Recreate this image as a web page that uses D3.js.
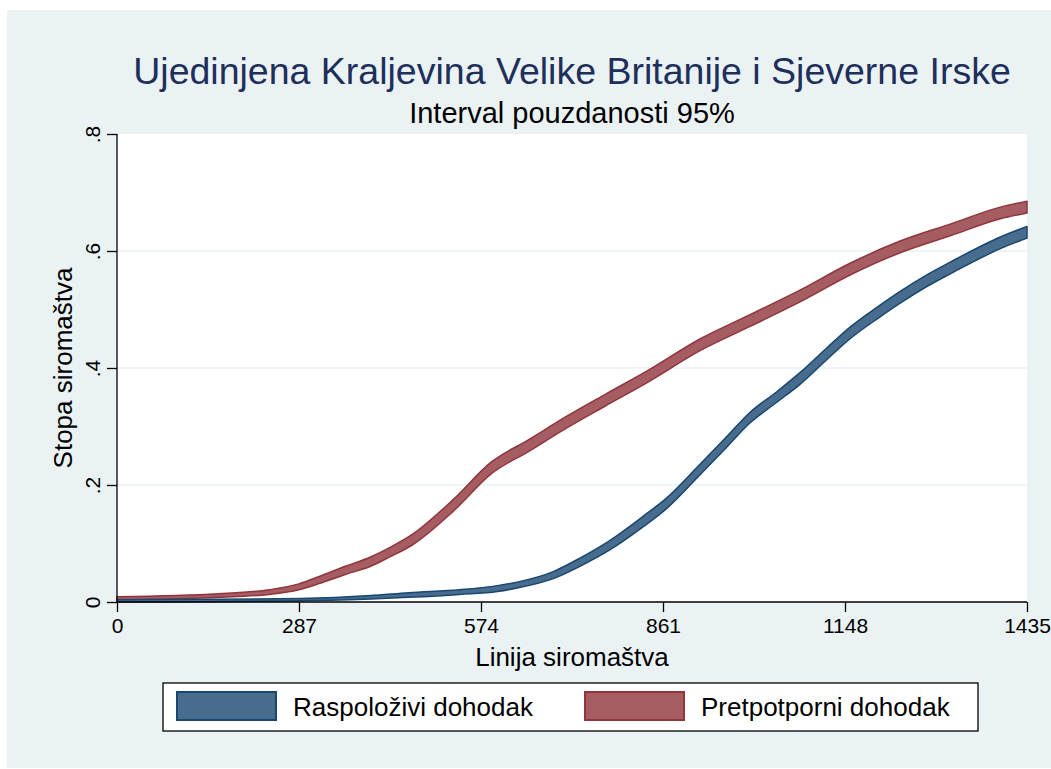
<html>
<head>
<style>
  body { margin: 0; background: #fff; }
  svg text { font-family: "Liberation Sans", Arial, sans-serif; }
</style>
</head>
<body>
<svg id="chart" width="1051" height="769"></svg>
<script src="https://d3js.org/d3.v7.min.js"></script>
<script>
// data
var xTicks = [0, 287, 574, 861, 1148, 1435];
var yTicks = [0, 0.2, 0.4, 0.6, 0.8];
var yTickLabels = ["0", ".2", ".4", ".6", ".8"];
var seriesNames = ["Raspoloživi dohodak", "Pretpotporni dohodak"];

// Raspoloživi dohodak (blue band)
var dispX  = [0, 130, 290, 400, 460, 540, 600, 631, 688, 730, 777, 829, 867, 919, 960, 998, 1040, 1077, 1120, 1156, 1200, 1235, 1275, 1314, 1393, 1435];
var dispLo = [.000, .0005, .002, .005, .008, .013, .018, .024, .040, .061, .089, .128, .160, .217, .263, .306, .341, .372, .415, .450, .485, .511, .538, .561, .604, .622];
var dispHi = [.004, .0045, .006, .011, .016, .021, .028, .034, .052, .075, .105, .146, .178, .235, .281, .324, .359, .392, .435, .470, .505, .531, .558, .581, .624, .642];

// Pretpotporni dohodak (red band)
var preX  = [0, 160, 240, 287, 320, 360, 400, 430, 465, 530, 590, 650, 710, 770, 836, 920, 1000, 1077, 1156, 1235, 1314, 1393, 1435];
var preLo = [.003, .008, .013, .021, .032, .047, .061, .077, .097, .155, .219, .258, .298, .335, .375, .430, .472, .513, .559, .597, .626, .655, .665];
var preHi = [.009, .014, .021, .031, .044, .061, .077, .093, .115, .175, .239, .278, .318, .355, .395, .450, .492, .533, .579, .617, .646, .675, .685];

var colors = {
  blueFill: "#476c8e", blueLine: "#1a476f",
  redFill: "#a55d63", redLine: "#90353b"
};

var svg = d3.select("#chart");

// outer graph region
svg.append("rect").attr("x", 7).attr("y", 10).attr("width", 1044).attr("height", 758)
  .attr("fill", "#eaf2f3");

var pLeft = 117, pRight = 1027, pTop = 134, pBottom = 602;
var x = d3.scaleLinear().domain([0, 1435]).range([pLeft, pRight]);
var y = d3.scaleLinear().domain([0, 0.8]).range([pBottom, pTop]);

// plot region
svg.append("rect").attr("x", pLeft).attr("y", pTop).attr("width", pRight - pLeft).attr("height", pBottom - pTop)
  .attr("fill", "#fff");

// gridlines
svg.append("g").selectAll("line").data([0.2, 0.4, 0.6]).enter().append("line")
  .attr("x1", pLeft).attr("x2", pRight)
  .attr("y1", function(d) { return y(d); }).attr("y2", function(d) { return y(d); })
  .attr("stroke", "#eaf2f3").attr("stroke-width", 1.6);

function band(xs, lo, hi) {
  var pts = xs.map(function(v, i) { return { x: v, lo: lo[i], hi: hi[i] }; });
  return d3.area()
    .curve(d3.curveMonotoneX)
    .x(function(d) { return x(d.x); })
    .y0(function(d) { return y(d.lo); })
    .y1(function(d) { return y(d.hi); })(pts);
}

svg.append("path").attr("d", band(preX, preLo, preHi))
  .attr("fill", colors.redFill).attr("stroke", colors.redLine).attr("stroke-width", 1.5)
  .attr("stroke-linejoin", "round");
svg.append("path").attr("d", band(dispX, dispLo, dispHi))
  .attr("fill", colors.blueFill).attr("stroke", colors.blueLine).attr("stroke-width", 1.5)
  .attr("stroke-linejoin", "round");

// x axis
var xAxis = svg.append("g").attr("transform", "translate(0," + pBottom + ")")
  .call(d3.axisBottom(x).tickValues(xTicks).tickSize(10).tickPadding(6).tickFormat(d3.format("d")));
xAxis.select(".domain").attr("stroke", "#000").attr("stroke-width", 1.3).attr("d", "M" + pLeft + ",0H" + pRight);
xAxis.selectAll(".tick line").attr("stroke", "#000").attr("stroke-width", 1.3);
xAxis.selectAll(".tick text").attr("font-size", 21).attr("fill", "#000")
  .attr("font-family", "Liberation Sans, Arial, sans-serif");

// y axis
var yAxis = svg.append("g").attr("transform", "translate(" + pLeft + ",0)")
  .call(d3.axisLeft(y).tickValues(yTicks).tickSize(10).tickFormat(function(d, i) { return yTickLabels[i]; }));
yAxis.select(".domain").attr("stroke", "#000").attr("stroke-width", 1.3).attr("d", "M0," + pBottom + "V" + pTop);
yAxis.selectAll(".tick line").attr("stroke", "#000").attr("stroke-width", 1.3);
yAxis.selectAll(".tick text").attr("font-size", 21).attr("fill", "#000")
  .attr("font-family", "Liberation Sans, Arial, sans-serif")
  .attr("x", null).attr("dy", null)
  .attr("text-anchor", "middle")
  .attr("transform", "translate(-17,0) rotate(-90)")
  .attr("y", 0);

// titles
svg.append("text").attr("x", 572).attr("y", 84).attr("text-anchor", "middle")
  .attr("font-size", 37.5).attr("fill", "#1e2f5c")
  .text("Ujedinjena Kraljevina Velike Britanije i Sjeverne Irske");
svg.append("text").attr("x", 572).attr("y", 123).attr("text-anchor", "middle")
  .attr("font-size", 29).attr("fill", "#000")
  .text("Interval pouzdanosti 95%");

svg.append("text").attr("x", 572).attr("y", 666).attr("text-anchor", "middle")
  .attr("font-size", 26).attr("fill", "#000").text("Linija siromaštva");
svg.append("text").attr("transform", "translate(72,368) rotate(-90)").attr("text-anchor", "middle")
  .attr("font-size", 26).attr("fill", "#000").text("Stopa siromaštva");

// legend
var legend = svg.append("g");
legend.append("rect").attr("x", 163).attr("y", 683).attr("width", 815).attr("height", 48)
  .attr("fill", "#fff").attr("stroke", "#000").attr("stroke-width", 1.3);
var keys = [
  { x: 177, tx: 293, fill: colors.blueFill, line: colors.blueLine },
  { x: 585, tx: 701, fill: colors.redFill, line: colors.redLine }
];
legend.selectAll("rect.key").data(keys).enter().append("rect").attr("class", "key")
  .attr("x", function(d) { return d.x; }).attr("y", 692).attr("width", 99).attr("height", 28)
  .attr("fill", function(d) { return d.fill; }).attr("stroke", function(d) { return d.line; })
  .attr("stroke-width", 2);
legend.selectAll("text").data(keys).enter().append("text")
  .attr("x", function(d) { return d.tx; }).attr("y", 716)
  .attr("font-size", 26).attr("fill", "#000")
  .text(function(d, i) { return seriesNames[i]; });
</script>
</body>
</html>
